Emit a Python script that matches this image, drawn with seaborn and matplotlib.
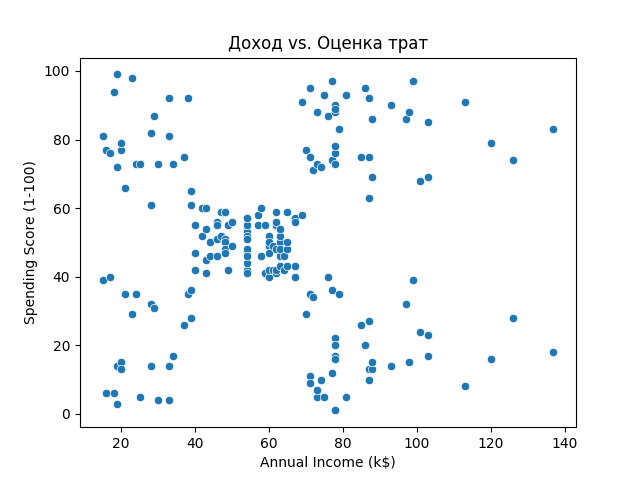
import matplotlib
matplotlib.use("Agg")
import matplotlib.pyplot as plt
import seaborn as sns
import pandas as pd

income = [15,15,16,16,17,17,18,18,19,19,19,19,20,20,20,20,21,21,23,23,24,24,25,25,28,28,28,28,29,29,
          30,30,33,33,33,33,34,34,37,37,38,38,39,39,39,39,40,40,40,40,42,42,43,43,43,43,44,44,46,46,
          46,46,47,47,48,48,48,48,48,48,49,49,50,50,54,54,54,54,54,54,54,54,54,54,54,54,57,57,58,58,
          59,59,60,60,60,60,60,60,61,61,62,62,62,62,62,62,63,63,63,63,63,63,64,64,65,65,65,65,67,67,
          67,67,69,69,70,70,71,71,71,71,71,71,72,72,73,73,73,73,74,74,75,75,76,76,77,77,77,77,78,78,
          78,78,78,78,78,78,78,78,78,78,79,79,81,81,85,85,86,86,87,87,87,87,87,87,88,88,88,88,93,93,
          97,97,98,98,99,99,101,101,103,103,103,103,113,113,120,120,126,126,137,137]
score = [39,81,6,77,40,76,6,94,3,72,14,99,15,77,13,79,35,66,29,98,35,73,5,73,14,82,32,61,31,87,
         4,73,4,92,14,81,17,73,26,75,35,92,36,61,28,65,55,47,42,42,52,60,54,60,45,41,50,46,51,46,
         56,55,52,59,51,59,50,48,59,47,55,42,49,56,47,54,53,48,52,42,51,55,41,44,57,46,58,55,60,46,
         55,41,49,40,42,52,47,50,42,49,41,48,59,55,56,42,50,46,43,48,52,54,42,46,48,50,43,59,43,57,
         56,40,58,91,29,77,35,95,11,75,9,75,34,71,5,88,7,73,10,72,5,93,40,87,12,97,36,74,22,90,
         17,88,20,76,16,89,1,78,1,73,35,83,5,93,26,75,20,95,27,63,13,75,10,92,13,86,15,69,14,90,
         32,86,15,88,39,97,24,68,17,85,23,69,8,91,16,79,28,74,18,83]

df = pd.DataFrame({"Annual Income (k$)": income, "Spending Score (1-100)": score})
fig, ax = plt.subplots(figsize=(6.4, 4.8), dpi=100)
sns.scatterplot(data=df, x="Annual Income (k$)", y="Spending Score (1-100)", ax=ax)
ax.set_title("Доход vs. Оценка трат")
fig.savefig("out.png")
